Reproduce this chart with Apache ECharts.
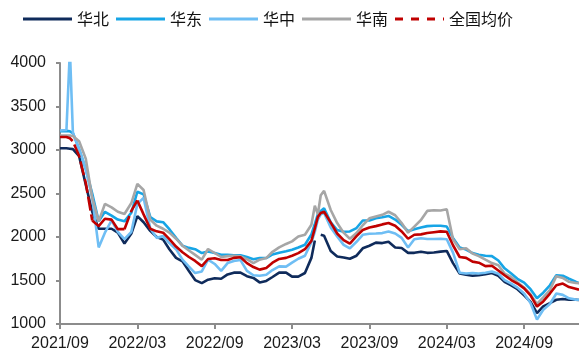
<!DOCTYPE html>
<html>
<head>
<meta charset="utf-8">
<script src="https://cdn.jsdelivr.net/npm/echarts@6/dist/echarts.min.js"></script>
<style>
  html, body { margin: 0; padding: 0; background: #ffffff; }
  #chart { width: 579px; height: 355px; }
</style>
</head>
<body>
<div id="chart"></div>
<script>
// Observation dates (roughly semi-monthly)
const dates = [
  '2021-09-01','2021-09-16','2021-09-24','2021-10-01','2021-10-16','2021-11-01','2021-11-16','2021-12-01','2021-12-16',
  '2022-01-01','2022-01-16','2022-02-01','2022-02-16','2022-03-01','2022-03-16','2022-04-01','2022-04-16','2022-05-01','2022-05-16',
  '2022-06-01','2022-06-16','2022-07-01','2022-07-16','2022-08-01','2022-08-16','2022-09-01','2022-09-16','2022-10-01','2022-10-16',
  '2022-11-01','2022-11-16','2022-12-01','2022-12-16','2023-01-01','2023-01-16','2023-02-01','2023-02-16','2023-03-01','2023-03-16',
  '2023-04-01','2023-04-16','2023-04-24','2023-05-01','2023-05-08','2023-05-16','2023-06-01','2023-06-16','2023-07-01','2023-07-16',
  '2023-08-01','2023-08-16','2023-09-01','2023-09-16','2023-10-01','2023-10-16','2023-11-01','2023-11-16','2023-12-01','2023-12-16',
  '2024-01-01','2024-01-16','2024-02-01','2024-02-16','2024-03-01','2024-03-16','2024-04-01','2024-04-16','2024-05-01','2024-05-16',
  '2024-06-01','2024-06-16','2024-07-01','2024-07-16','2024-08-01','2024-08-16','2024-09-01','2024-09-16','2024-10-01','2024-10-16',
  '2024-11-01','2024-11-16','2024-12-01','2024-12-16','2025-01-01','2025-01-09'
];

// 华北
const huabei = [
  3020,3020,3015,3010,2930,2600,2290,2095,2095,
  2095,2050,1925,2040,2240,2170,2070,2000,1970,1860,
  1760,1720,1610,1505,1470,1509,1525,1520,1570,1590,
  1590,1550,1530,1478,1495,1540,1590,1590,1545,1545,
  1586,1760,1960,null,2026,2015,1840,1775,1765,1750,
  1785,1870,1900,1935,1930,1945,1880,1873,1818,1818,
  1830,1818,1822,1832,1840,1700,1580,1566,1555,1560,
  1572,1586,1555,1485,1445,1400,1330,1255,1125,1202,
  1240,1279,1287,1279,1279,1275
];

// 华东
const huadong = [
  3215,3220,3215,3195,3010,2780,2500,2180,2290,
  2245,2200,2180,2280,2520,2490,2230,2180,2170,2090,
  1990,1900,1875,1860,1816,1834,1816,1796,1796,1790,
  1790,1770,1745,1758,1758,1800,1820,1836,1854,1880,
  1911,2030,2150,2260,2300,2330,2170,2080,2060,2064,
  2103,2190,2190,2215,2227,2242,2200,2141,2066,2088,
  2110,2125,2130,2130,2120,1990,1880,1856,1815,1796,
  1785,1780,1730,1640,1580,1520,1475,1400,1295,1360,
  1445,1560,1555,1520,1485,1471
];

// 华中
const huazhong = [
  3225,3230,4150,3200,3010,2780,2450,1880,2050,
  2190,2060,1975,2060,2380,2450,2100,1990,2010,1930,
  1860,1740,1660,1585,1604,1739,1690,1610,1700,1725,
  1735,1610,1560,1555,1566,1620,1662,1660,1705,1750,
  1785,1940,2060,2200,2260,2275,2110,2005,1910,1870,
  1945,2025,2038,2040,2045,2062,2040,1990,1880,1975,
  1985,1977,1977,1980,1975,1820,1590,1580,1586,1580,
  1590,1604,1578,1505,1465,1418,1350,1240,1050,1164,
  1230,1350,1335,1295,1280,1279
];

// 华南
const huanan = [
  3165,3165,3165,3160,3100,2900,2450,2180,2380,
  2340,2290,2265,2390,2610,2540,2200,2130,2095,2050,
  1980,1900,1845,1795,1739,1862,1816,1770,1780,1785,
  1777,1745,1700,1739,1758,1830,1880,1920,1950,2005,
  2026,2140,2360,2260,2480,2530,2310,2160,2050,1980,
  2045,2135,2215,2235,2255,2290,2250,2160,2050,2120,
  2195,2300,2307,2305,2320,1975,1860,1870,1810,1780,
  1739,1700,1675,1580,1540,1480,1420,1340,1230,1305,
  1390,1550,1530,1485,1471,1470
];

// 全国均价
const national = [
  3150,3150,3135,3100,2930,2620,2190,2125,2210,
  2200,2090,2090,2300,2420,2260,2095,2065,2050,1975,
  1890,1825,1770,1725,1665,1747,1755,1735,1735,1760,
  1768,1700,1655,1625,1645,1705,1748,1760,1785,1815,
  1860,1955,2100,2230,2275,2290,2165,2040,1965,1925,
  2010,2080,2110,2125,2145,2160,2130,2064,1980,2026,
  2030,2045,2055,2065,2060,1905,1770,1760,1717,1705,
  1665,1670,1615,1560,1505,1465,1410,1330,1200,1260,
  1350,1445,1465,1425,1405,1394
];

// Index ranges of the average series drawn with a dashed stroke
const nationalDashedRanges = [[0, 6], [11, 13]];

const tickLabels = ['2021/09', '2022/03', '2022/09', '2023/03', '2023/09', '2024/03', '2024/09'];

// Month offset from 2021-09-01
function monthOffset(s) {
  const [y, m, d] = s.split('-').map(Number);
  const dim = new Date(y, m, 0).getDate();
  return (y - 2021) * 12 + (m - 9) + (d - 1) / dim;
}

const xs = dates.map(monthOffset);
const toPairs = arr => arr.map((v, i) => [xs[i], v == null ? null : v]);

const inDashed = i => nationalDashedRanges.some(([a, b]) => i >= a && i <= b);
const isInnerDashed = i => nationalDashedRanges.some(([a, b]) => i > a && i < b) || i < nationalDashedRanges[0][1];
const nationalDashed = national.map((v, i) => [xs[i], inDashed(i) ? v : null]);
const nationalSolid = national.map((v, i) => [xs[i], isInnerDashed(i) ? null : v]);

const tickPositions = tickLabels.map((_, i) => i * 6);

const font = '"Liberation Sans", Arial, "Noto Sans CJK SC", sans-serif';
const axisGray = '#8c8c8c';
const lw = 2.6;

// Legend swatches: plain bar for solid series, three short bars for the dashed one
const solidIcon = 'rect';
const dashedIcon = 'path://M0,0h8v3h-8z M16,0h8v3h-8z M32,0h8v3h-8z M48,0h1v3h-1z';

const chart = echarts.init(document.getElementById('chart'), null, { renderer: 'canvas' });

const lineSeries = (name, data, color, extra) => Object.assign({
  name, type: 'line', data, symbol: 'none', smooth: false,
  lineStyle: { color, width: lw },
  itemStyle: { color },
  emphasis: { disabled: true },
  animation: false
}, extra || {});

chart.setOption({
  backgroundColor: '#ffffff',
  animation: false,
  textStyle: { fontFamily: font },
  legend: {
    left: 23,
    top: 11,
    padding: 0,
    itemGap: 7,
    itemWidth: 49,
    itemHeight: 3,
    textStyle: { fontSize: 16, color: '#111111', fontFamily: '"Noto Sans CJK SC", sans-serif' },
    data: [
      { name: '华北', icon: solidIcon },
      { name: '华东', icon: solidIcon },
      { name: '华中', icon: solidIcon },
      { name: '华南', icon: solidIcon },
      { name: '全国均价', icon: dashedIcon }
    ]
  },
  grid: { left: 60, right: 0, top: 63, bottom: 31, containLabel: false },
  xAxis: {
    type: 'value',
    min: 0,
    max: xs[xs.length - 1],
    interval: 6,
    splitLine: { show: false },
    axisLine: { show: true, lineStyle: { color: axisGray, width: 2 } },
    axisTick: { show: true, length: 5, lineStyle: { color: axisGray, width: 2 }, customValues: tickPositions },
    axisLabel: {
      customValues: tickPositions,
      margin: 12,
      fontSize: 16,
      color: '#1a1a1a',
      fontFamily: font,
      formatter: v => {
        const k = Math.round(v / 6);
        return Math.abs(v - k * 6) < 1e-6 && tickLabels[k] ? tickLabels[k] : '';
      }
    }
  },
  yAxis: {
    type: 'value',
    min: 1000,
    max: 4000,
    interval: 500,
    splitLine: { show: false },
    axisLine: { show: true, lineStyle: { color: axisGray, width: 2 } },
    axisTick: { show: true, length: 4, lineStyle: { color: axisGray, width: 2 } },
    axisLabel: { margin: 14, fontSize: 16, color: '#1a1a1a', fontFamily: font, formatter: v => String(v) }
  },
  series: [
    lineSeries('华北', toPairs(huabei), '#0f2b5b'),
    lineSeries('华东', toPairs(huadong), '#17a5e6'),
    lineSeries('华中', toPairs(huazhong), '#6fbef4'),
    lineSeries('华南', toPairs(huanan), '#a6a6a6'),
    lineSeries('全国均价', nationalDashed, '#c00000', { lineStyle: { color: '#c00000', width: lw, type: [14, 4] } }),
    lineSeries('全国均价', nationalSolid, '#c00000')
  ]
});
</script>
</body>
</html>
